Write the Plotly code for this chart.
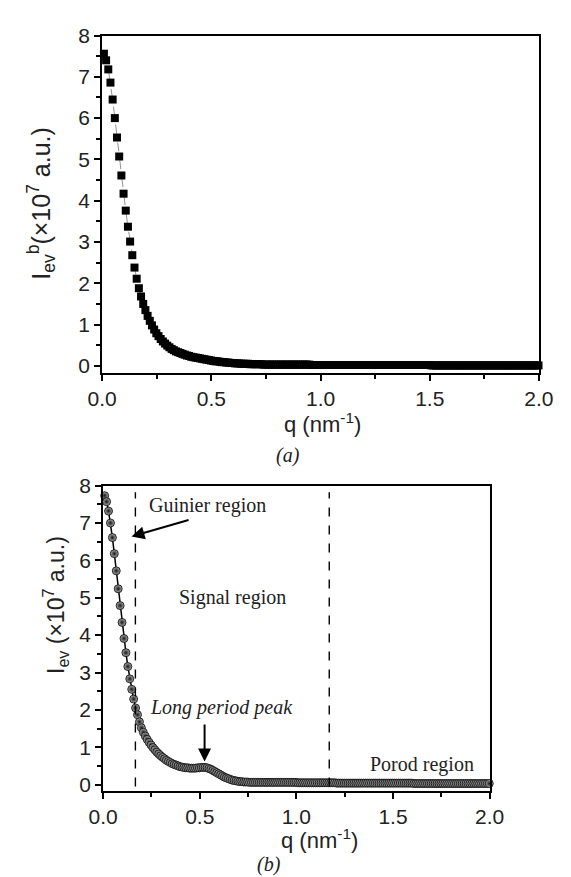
import plotly.graph_objects as go

# ---------------- data ----------------
q = [
    0.008, 0.018, 0.028, 0.038, 0.048, 0.058, 0.068, 0.078, 0.088, 0.098,
    0.108, 0.118, 0.128, 0.138, 0.148, 0.158, 0.168, 0.178, 0.188, 0.198,
    0.208, 0.218, 0.228, 0.238, 0.248, 0.258, 0.268, 0.278, 0.288, 0.298,
    0.308, 0.318, 0.328, 0.338, 0.348, 0.358, 0.368, 0.378, 0.388, 0.398,
    0.408, 0.418, 0.428, 0.438, 0.448, 0.458, 0.468, 0.478, 0.488, 0.498,
    0.508, 0.518, 0.528, 0.538, 0.548, 0.558, 0.568, 0.578, 0.588, 0.598,
    0.608, 0.618, 0.628, 0.638, 0.648, 0.658, 0.668, 0.678, 0.688, 0.698,
    0.708, 0.718, 0.728, 0.738, 0.748, 0.758, 0.768, 0.778, 0.788, 0.798,
    0.808, 0.818, 0.828, 0.838, 0.848, 0.858, 0.868, 0.878, 0.888, 0.898,
    0.908, 0.918, 0.928, 0.938, 0.948, 0.958, 0.968, 0.978, 0.988, 0.998,
    1.008, 1.018, 1.028, 1.038, 1.048, 1.058, 1.068, 1.078, 1.088, 1.098,
    1.108, 1.118, 1.128, 1.138, 1.148, 1.158, 1.168, 1.178, 1.188, 1.198,
    1.208, 1.218, 1.228, 1.238, 1.248, 1.258, 1.268, 1.278, 1.288, 1.298,
    1.308, 1.318, 1.328, 1.338, 1.348, 1.358, 1.368, 1.378, 1.388, 1.398,
    1.408, 1.418, 1.428, 1.438, 1.448, 1.458, 1.468, 1.478, 1.488, 1.498,
    1.508, 1.518, 1.528, 1.538, 1.548, 1.558, 1.568, 1.578, 1.588, 1.598,
    1.608, 1.618, 1.628, 1.638, 1.648, 1.658, 1.668, 1.678, 1.688, 1.698,
    1.708, 1.718, 1.728, 1.738, 1.748, 1.758, 1.768, 1.778, 1.788, 1.798,
    1.808, 1.818, 1.828, 1.838, 1.848, 1.858, 1.868, 1.878, 1.888, 1.898,
    1.908, 1.918, 1.928, 1.938, 1.948, 1.958, 1.968, 1.978, 1.988, 1.998,
]

# panel (a): I_ev^b (x1e7 a.u.)
I_a = [
    7.56, 7.40, 7.18, 6.86, 6.45, 6.00, 5.53, 5.07, 4.61, 4.17,
    3.76, 3.37, 3.01, 2.68, 2.38, 2.11, 1.88, 1.68, 1.50, 1.35,
    1.21, 1.09, 0.98, 0.88, 0.79, 0.72, 0.65, 0.59, 0.54, 0.49,
    0.45, 0.41, 0.38, 0.35, 0.33, 0.31, 0.29, 0.27, 0.25, 0.24,
    0.22, 0.21, 0.20, 0.19, 0.18, 0.17, 0.16, 0.15, 0.14, 0.13,
    0.12, 0.11, 0.11, 0.10, 0.09, 0.09, 0.08, 0.08, 0.07, 0.07,
    0.06, 0.06, 0.06, 0.05, 0.05, 0.05, 0.05, 0.04, 0.04, 0.04,
    0.04, 0.04, 0.04, 0.03, 0.03, 0.03, 0.03, 0.03, 0.03, 0.03,
    0.03, 0.03, 0.03, 0.03, 0.03, 0.03, 0.03, 0.03, 0.03, 0.03,
    0.03, 0.03, 0.03, 0.03, 0.03, 0.02, 0.02, 0.02, 0.02, 0.02,
    0.02, 0.02, 0.02, 0.02, 0.02, 0.02, 0.02, 0.02, 0.02, 0.02,
    0.02, 0.02, 0.02, 0.02, 0.02, 0.02, 0.02, 0.02, 0.02, 0.02,
    0.02, 0.02, 0.02, 0.02, 0.02, 0.02, 0.02, 0.02, 0.02, 0.02,
    0.02, 0.02, 0.02, 0.02, 0.02, 0.02, 0.02, 0.02, 0.02, 0.02,
    0.02, 0.02, 0.02, 0.02, 0.02, 0.02, 0.02, 0.02, 0.02, 0.02,
    0.01, 0.01, 0.01, 0.01, 0.01, 0.01, 0.01, 0.01, 0.01, 0.01,
    0.01, 0.01, 0.01, 0.01, 0.01, 0.01, 0.01, 0.01, 0.01, 0.01,
    0.01, 0.01, 0.01, 0.01, 0.01, 0.01, 0.01, 0.01, 0.01, 0.01,
    0.01, 0.01, 0.01, 0.01, 0.01, 0.01, 0.01, 0.01, 0.01, 0.01,
    0.01, 0.01, 0.01, 0.01, 0.01, 0.01, 0.01, 0.01, 0.01, 0.01,
]

# panel (b): I_ev (x1e7 a.u.)
I_b = [
    7.73, 7.57, 7.32, 7.00, 6.61, 6.18, 5.72, 5.24, 4.79, 4.34,
    3.91, 3.53, 3.16, 2.83, 2.55, 2.29, 2.05, 1.87, 1.68, 1.52,
    1.40, 1.30, 1.21, 1.13, 1.06, 0.99, 0.93, 0.87, 0.82, 0.77,
    0.73, 0.69, 0.65, 0.62, 0.59, 0.56, 0.54, 0.52, 0.50, 0.48,
    0.47, 0.46, 0.45, 0.45, 0.44, 0.44, 0.44, 0.44, 0.45, 0.45,
    0.46, 0.46, 0.46, 0.45, 0.43, 0.41, 0.38, 0.35, 0.32, 0.29,
    0.26, 0.23, 0.20, 0.18, 0.16, 0.14, 0.12, 0.11, 0.10, 0.09,
    0.08, 0.08, 0.07, 0.07, 0.07, 0.06, 0.06, 0.06, 0.06, 0.06,
    0.06, 0.06, 0.06, 0.06, 0.06, 0.06, 0.06, 0.06, 0.06, 0.06,
    0.06, 0.06, 0.06, 0.06, 0.06, 0.06, 0.06, 0.06, 0.06, 0.06,
    0.05, 0.05, 0.05, 0.05, 0.05, 0.05, 0.05, 0.05, 0.05, 0.05,
    0.05, 0.05, 0.05, 0.05, 0.05, 0.05, 0.05, 0.05, 0.05, 0.05,
    0.04, 0.04, 0.04, 0.04, 0.04, 0.04, 0.04, 0.04, 0.04, 0.04,
    0.04, 0.04, 0.04, 0.04, 0.04, 0.04, 0.04, 0.04, 0.04, 0.04,
    0.04, 0.04, 0.04, 0.04, 0.04, 0.04, 0.04, 0.04, 0.04, 0.04,
    0.04, 0.04, 0.04, 0.04, 0.04, 0.04, 0.04, 0.04, 0.04, 0.04,
    0.03, 0.03, 0.03, 0.03, 0.03, 0.03, 0.03, 0.03, 0.03, 0.03,
    0.03, 0.03, 0.03, 0.03, 0.03, 0.03, 0.03, 0.03, 0.03, 0.03,
    0.03, 0.03, 0.03, 0.03, 0.03, 0.03, 0.03, 0.03, 0.03, 0.03,
    0.03, 0.03, 0.03, 0.03, 0.03, 0.03, 0.03, 0.03, 0.03, 0.03,
]

region_bounds = [0.167, 1.17]          # dashed boundaries in (b)
region_labels = ["Guinier region", "Signal region", "Porod region"]
peak_label = "Long period peak"
x_ticks = [0.0, 0.5, 1.0, 1.5, 2.0]
x_ticktext = ["0.0", "0.5", "1.0", "1.5", "2.0"]
y_ticks = [0, 1, 2, 3, 4, 5, 6, 7, 8]

# ---------------- figure ----------------
W, H = 571, 877
SANS = "Arial, 'Liberation Sans', sans-serif"
SERIF = "'Times New Roman', 'Liberation Serif', serif"

def px_x(p):
    return p / W

def px_y(p):
    return 1 - p / H

fig = go.Figure()

fig.add_trace(go.Scatter(
    x=q, y=I_a, mode="lines+markers", xaxis="x", yaxis="y",
    line=dict(color="#777777", width=0.8, dash="dash"),
    marker=dict(symbol="square", size=8, color="black",
                line=dict(color="black", width=0)),
    cliponaxis=False, showlegend=False,
))

fig.add_trace(go.Scatter(
    x=q, y=I_b, mode="lines+markers", xaxis="x2", yaxis="y2",
    line=dict(color="black", width=1.5),
    marker=dict(symbol="circle", size=8, color="#b0b0b0",
                gradient=dict(type="radial", color="#151515"),
                line=dict(color="black", width=0.8)),
    cliponaxis=False, showlegend=False,
))

axis_common = dict(
    showline=True, linecolor="black", linewidth=2, mirror=True,
    showgrid=False, zeroline=False, ticks="outside", ticklen=6,
    tickwidth=1.5, tickcolor="black",
    tickfont=dict(family=SANS, size=21, color="#222222"),
)

fig.update_layout(
    width=W, height=H, autosize=False,
    margin=dict(l=0, r=0, t=0, b=0),
    paper_bgcolor="white", plot_bgcolor="white",
    xaxis=dict(axis_common, domain=[px_x(92), px_x(553)], range=[0, 2],
               tickvals=x_ticks, ticktext=x_ticktext, anchor="y",
               minor=dict(dtick=0.25, ticklen=4, ticks="outside",
                          tickcolor="black", tickwidth=1.5)),
    yaxis=dict(axis_common, domain=[px_y(368), px_y(24)], range=[-0.17, 8],
               tickvals=y_ticks, anchor="x",
               minor=dict(dtick=0.5, ticklen=4, ticks="outside",
                          tickcolor="black", tickwidth=1.5)),
    xaxis2=dict(axis_common, domain=[px_x(93), px_x(501)], range=[0, 2],
                tickvals=x_ticks, ticktext=x_ticktext, anchor="y2",
                minor=dict(dtick=0.25, ticklen=4, ticks="outside",
                           tickcolor="black", tickwidth=1.5)),
    yaxis2=dict(axis_common, domain=[px_y(794), px_y(483)], range=[-0.16, 8],
                tickvals=y_ticks, anchor="x2",
                minor=dict(dtick=0.5, ticklen=4, ticks="outside",
                           tickcolor="black", tickwidth=1.5)),
)

# dashed region boundaries in (b)
for xb in region_bounds:
    fig.add_shape(type="line", xref="x2", yref="y2",
                  x0=xb, x1=xb, y0=-0.05, y1=7.82,
                  line=dict(color="black", width=1.4, dash="dash"))

ann = []
# axis titles
ann.append(dict(text="I<sub>ev</sub><sup>b</sup>(×10<sup>7</sup> a.u.)",
                xref="paper", yref="paper", x=px_x(28), y=px_y(195),
                textangle=-90, showarrow=False, xanchor="center", yanchor="middle",
                font=dict(family=SANS, size=25, color="#222222")))
ann.append(dict(text="I<sub>ev</sub> (×10<sup>7</sup> a.u.)",
                xref="paper", yref="paper", x=px_x(43), y=px_y(605),
                textangle=-90, showarrow=False, xanchor="center", yanchor="middle",
                font=dict(family=SANS, size=23, color="#222222")))
ann.append(dict(text="q (nm<sup>-1</sup>)", xref="paper", yref="paper",
                x=px_x(325), y=px_y(419), showarrow=False,
                xanchor="center", yanchor="middle",
                font=dict(family=SANS, size=22, color="#222222")))
ann.append(dict(text="q (nm<sup>-1</sup>)", xref="paper", yref="paper",
                x=px_x(321), y=px_y(843), showarrow=False,
                xanchor="center", yanchor="middle",
                font=dict(family=SANS, size=22, color="#222222")))
# panel labels
ann.append(dict(text="<i>(a)</i>", xref="paper", yref="paper",
                x=px_x(288), y=px_y(452), showarrow=False,
                xanchor="center", yanchor="middle",
                font=dict(family=SERIF, size=20, color="#222222")))
ann.append(dict(text="<i>(b)</i>", xref="paper", yref="paper",
                x=px_x(268), y=px_y(869), showarrow=False,
                xanchor="center", yanchor="middle",
                font=dict(family=SERIF, size=20, color="#222222")))
# region labels in (b)
for txt, xx, yy in [(region_labels[0], 0.54, 7.48),
                    (region_labels[1], 0.67, 5.01),
                    (region_labels[2], 1.65, 0.55)]:
    ann.append(dict(text=txt, xref="x2", yref="y2", x=xx, y=yy,
                    showarrow=False, xanchor="center", yanchor="middle",
                    font=dict(family=SERIF, size=20, color="#222222")))
ann.append(dict(text="<i>" + peak_label + "</i>", xref="x2", yref="y2",
                x=0.61, y=2.07, showarrow=False, xanchor="center", yanchor="middle",
                font=dict(family=SERIF, size=20, color="#222222")))
# arrows
ann.append(dict(text="", xref="x2", yref="y2", x=0.147, y=6.64,
                axref="x2", ayref="y2", ax=0.45, ay=7.09,
                showarrow=True, arrowhead=2, arrowsize=1.3, arrowwidth=2,
                arrowcolor="black", standoff=0))
ann.append(dict(text="", xref="x2", yref="y2", x=0.525, y=0.62,
                axref="x2", ayref="y2", ax=0.525, ay=1.65,
                showarrow=True, arrowhead=2, arrowsize=1.3, arrowwidth=2,
                arrowcolor="black", standoff=0))

fig.update_layout(annotations=ann)

fig.write_html("out.html")
